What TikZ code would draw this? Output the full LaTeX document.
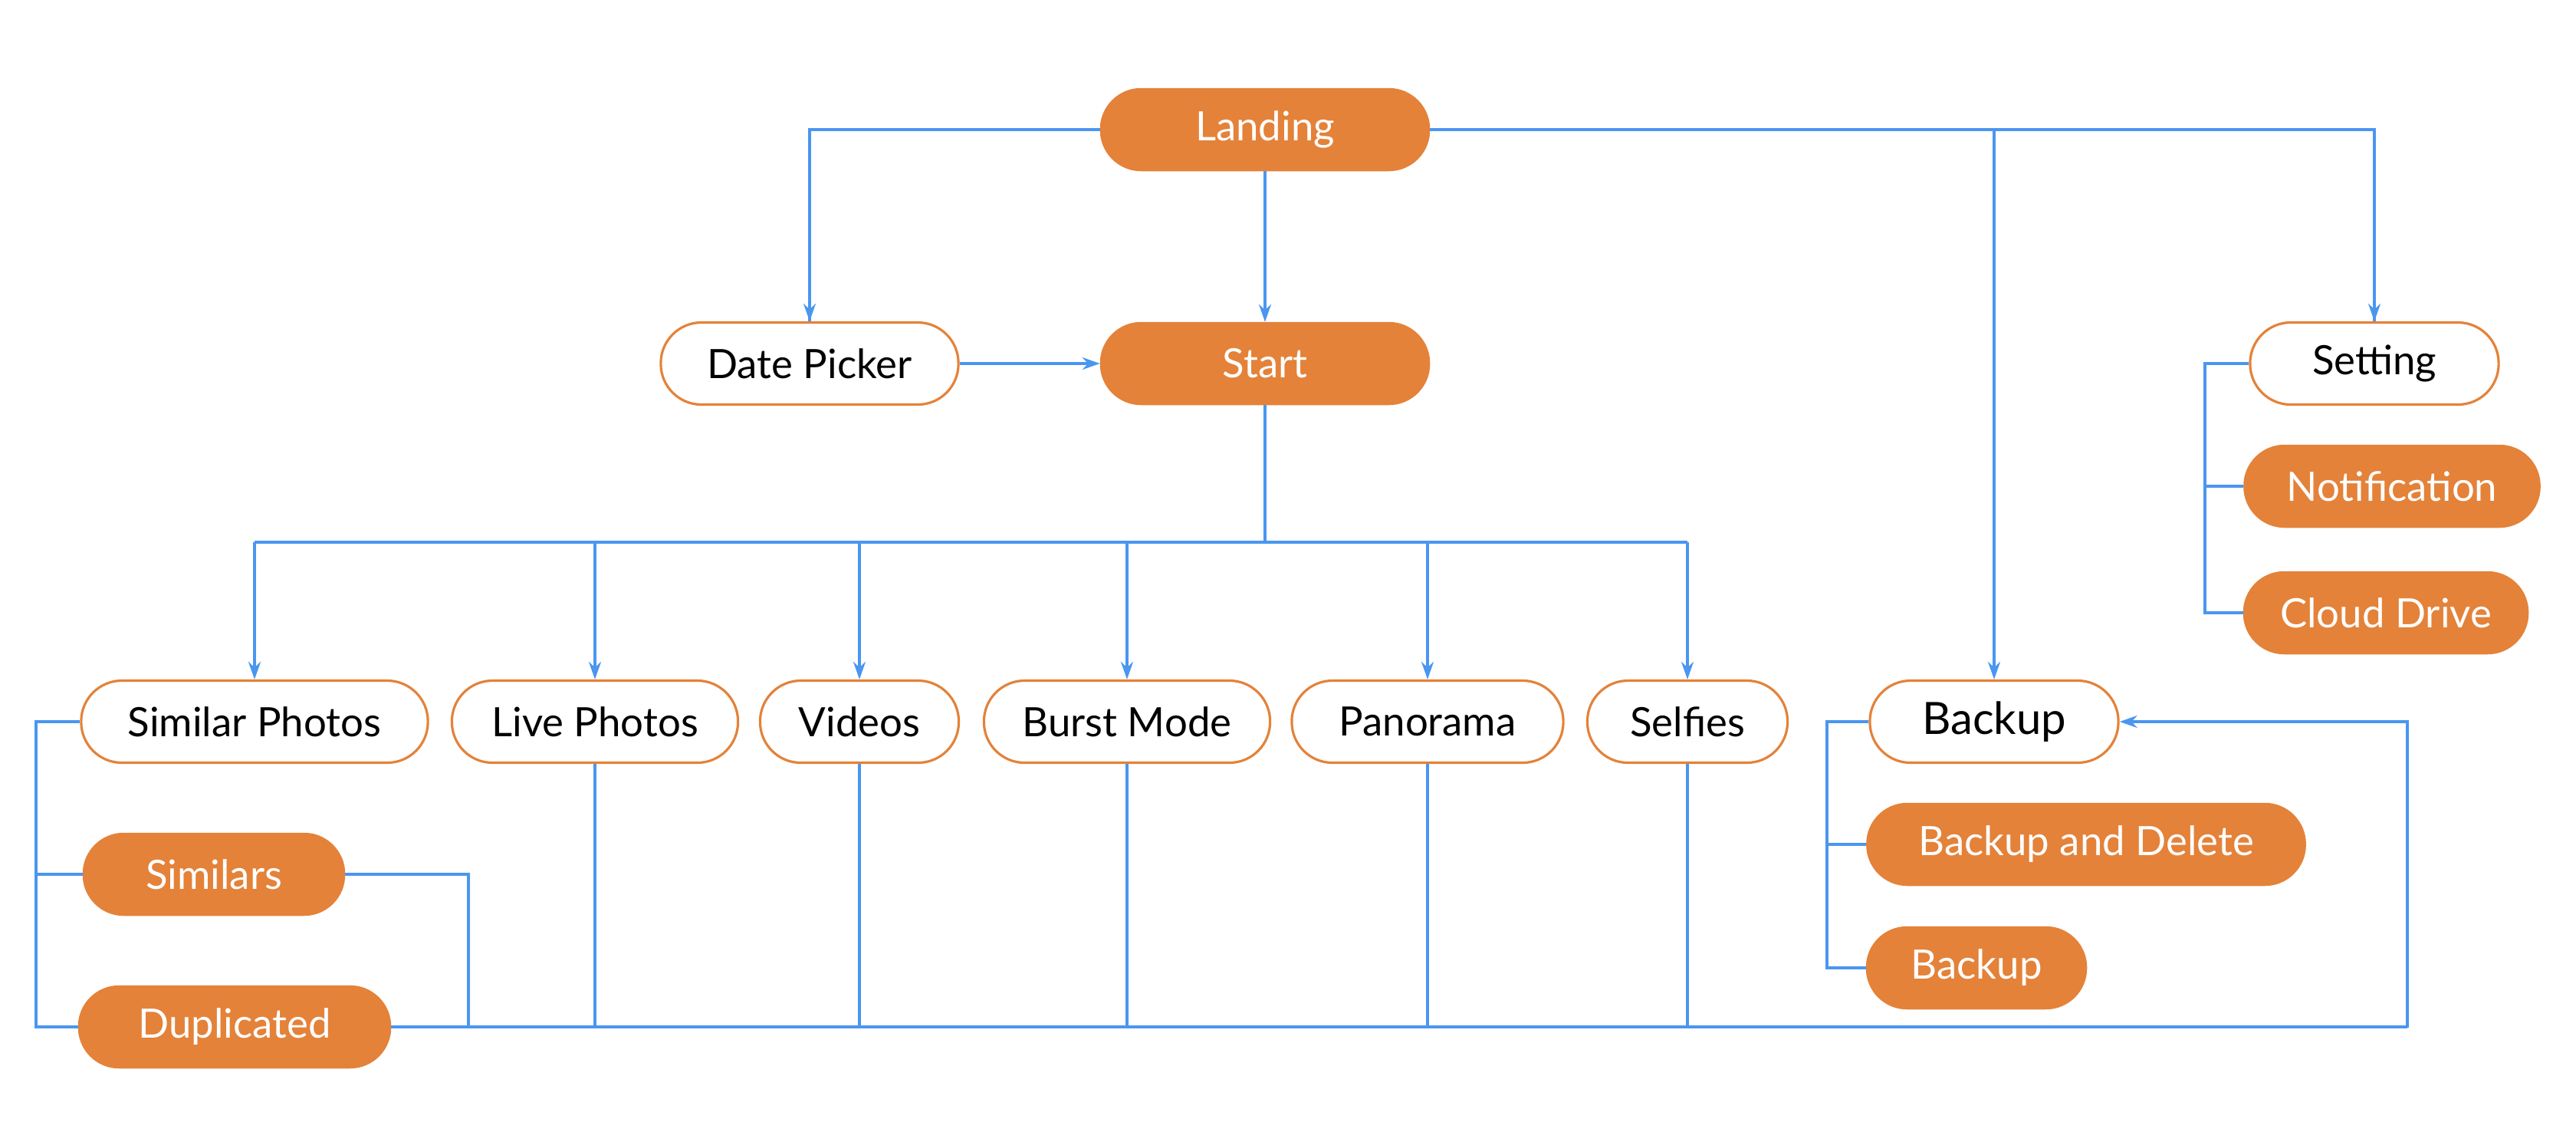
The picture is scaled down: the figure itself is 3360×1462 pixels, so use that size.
\documentclass[tikz,border=0pt]{standalone}
\usepackage{fontspec}
\setmainfont{Lato}
\usepackage{tikz}
\usetikzlibrary{arrows.meta,shapes,positioning}
\usepackage{xcolor}
\definecolor{flowblue}{RGB}{74,150,240}
\definecolor{floworange}{RGB}{228,130,57}
\tikzstyle{arrow} = [line width=0.9pt,->,>={Stealth[length=2.3mm,width=1.6mm]},color=flowblue]
\tikzstyle{link} = [line width=0.9pt,color=flowblue]
\tikzstyle{pillfill} = [rectangle, rounded corners=0.53cm, minimum height=1.07cm, text centered, fill=floworange, draw=floworange, text=white, font=\fontsize{15pt}{17pt}\selectfont]
\tikzstyle{pillline} = [rectangle, rounded corners=0.53cm, minimum height=1.07cm, text centered, fill=white, draw=floworange, line width=0.9pt, text=black, font=\fontsize{15pt}{17pt}\selectfont]

\begin{document}
\begin{tikzpicture}[x=0.01cm, y=-0.01cm]
\useasboundingbox (0,0) rectangle (3360,1462);

% Top of the flow
\node (landing) [pillfill, minimum width=4.29cm] at (1650,169) {Landing};
\node (datepicker) [pillline, minimum width=3.88cm] at (1056,474) {Date Picker};
\node (start) [pillfill, minimum width=4.29cm] at (1650,474) {Start};

% Setting column at right
\node (setting) [pillline, minimum width=3.24cm] at (3097,474) {Setting};
\node (notification) [pillfill, minimum width=3.86cm] at (3120,634) {Notification};
\node (clouddrive) [pillfill, minimum width=3.71cm] at (3112,799) {Cloud Drive};

% Row of photo types
\node (similarphotos) [pillline, minimum width=4.52cm] at (332,941) {Similar Photos};
\node (livephotos) [pillline, minimum width=3.73cm] at (776,941) {Live Photos};
\node (videos) [pillline, minimum width=2.59cm] at (1121,941) {Videos};
\node (burstmode) [pillline, minimum width=3.73cm] at (1470,941) {Burst Mode};
\node (panorama) [pillline, minimum width=3.54cm] at (1862,941) {Panorama};
\node (selfies) [pillline, minimum width=2.61cm] at (2201,941) {Selfies};
\node (backup) [pillline, minimum width=3.24cm, font=\fontsize{16.5pt}{18pt}\selectfont] at (2601,941) {Backup};

% Sub pages
\node (similars) [pillfill, minimum width=3.41cm] at (279,1140) {Similars};
\node (duplicated) [pillfill, minimum width=4.07cm] at (306,1339) {Duplicated};
\node (backupdelete) [pillfill, minimum width=5.72cm] at (2721,1101) {Backup and Delete};
\node (backupnow) [pillfill, minimum width=2.87cm] at (2578,1262) {Backup};

% Rails and joints
\coordinate (bar) at (1650,707);
\coordinate (leftrail) at (47,941);
\coordinate (simjoin) at (611,1340);
\coordinate (busend) at (3140,1340);
\coordinate (backuprail) at (2383,941);
\coordinate (settingrail) at (2876,474);

% Connections from Landing
\draw[link] (landing.west) -| (datepicker.north);
\draw[arrow] (landing.west -| datepicker.north) -- (datepicker.north);
\draw[arrow] (landing.south) -- (start.north);
\draw[link] (landing.east) -| (setting.north);
\draw[arrow] (landing.east -| setting.north) -- (setting.north);
\draw[arrow] (landing.east -| backup.north) -- (backup.north);
\draw[arrow] (datepicker.east) -- (start.west);

% Start to the photo types
\draw[link] (start.south) -- (bar);
\draw[link] (bar -| similarphotos) -- (bar -| selfies);
\foreach \n in {similarphotos,livephotos,videos,burstmode,panorama,selfies}
  \draw[arrow] (bar -| \n.north) -- (\n.north);

% Similar photos group
\draw[link] (similarphotos.west) -- (similarphotos.west -| leftrail) |- (duplicated.west);
\draw[link] (similars.west) -- (similars.west -| leftrail);
\draw[link] (similars.east) -| (simjoin);

% Bottom bus back to Backup
\draw[link] (duplicated.east) -- (duplicated.east -| busend);
\foreach \n in {livephotos,videos,burstmode,panorama,selfies}
  \draw[link] (\n.south) -- (\n.south |- busend);
\draw[arrow] (busend) |- (backup.east);

% Backup group
\draw[link] (backup.west) -- (backup.west -| backuprail) |- (backupnow.west);
\draw[link] (backupdelete.west) -- (backupdelete.west -| backuprail);

% Setting group
\draw[link] (setting.west) -- (setting.west -| settingrail) |- (clouddrive.west);
\draw[link] (notification.west) -- (notification.west -| settingrail);
\end{tikzpicture}
\end{document}
